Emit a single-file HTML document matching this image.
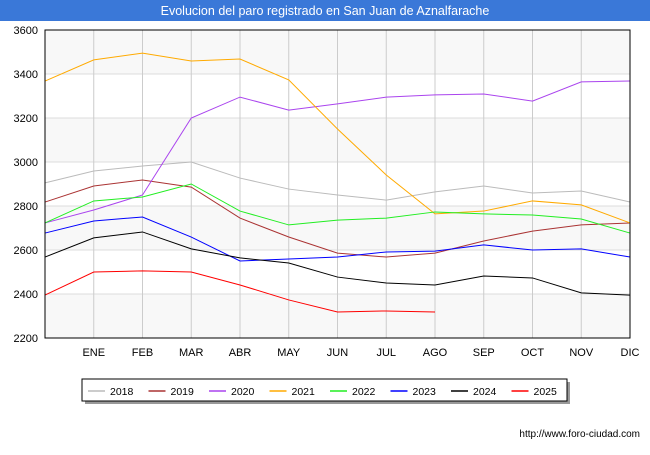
<!DOCTYPE html>
<html><head><meta charset="utf-8"><style>
body{margin:0;background:#fff;font-family:"Liberation Sans",sans-serif}
</style></head><body>
<svg width="650" height="450" xmlns="http://www.w3.org/2000/svg" font-family="Liberation Sans, sans-serif">
<rect x="0" y="0" width="650" height="21" fill="#3a78d8"/>
<text x="325" y="15" text-anchor="middle" fill="#fff" font-size="12.5">Evolucion del paro registrado en San Juan de Aznalfarache</text>
<g id="bands"></g><g id="grid"></g><g id="axes"></g><g id="series"></g>
<rect x="45" y="30" width="585" height="308" fill="none" stroke="#000" stroke-width="1"/>
<rect x="85" y="382" width="485" height="22" fill="#999"/>
<rect x="82" y="379" width="485" height="22" fill="#fff" stroke="#000"/>
<g id="legend"></g>
<text x="640" y="437" text-anchor="end" font-size="10" fill="#000">http://www.foro-ciudad.com</text>
</svg>
<script>
const months=["","ENE","FEB","MAR","ABR","MAY","JUN","JUL","AGO","SEP","OCT","NOV","DIC"];
const yTicks=[2200,2400,2600,2800,3000,3200,3400,3600];
const years=["2018","2019","2020","2021","2022","2023","2024","2025"];
const colors=["#bbbbbb","#aa3333","#aa44ee","#ffaa00","#22ee22","#0000ff","#000000","#ff0000"];
const s2018=[2905,2959,2982,3000,2927,2877,2850,2827,2864,2891,2859,2868,2818];
const s2019=[2818,2891,2918,2886,2745,2659,2586,2568,2586,2641,2686,2714,2723];
const s2020=[2723,2782,2850,3200,3295,3236,3264,3295,3305,3309,3277,3364,3368];
const s2021=[3368,3464,3495,3459,3468,3373,3150,2941,2764,2777,2823,2805,2723];
const s2022=[2723,2823,2841,2900,2777,2714,2736,2745,2773,2764,2759,2741,2677];
const s2023=[2677,2732,2750,2659,2550,2559,2568,2591,2595,2623,2600,2605,2568];
const s2024=[2568,2655,2682,2605,2564,2541,2477,2450,2441,2482,2473,2405,2395];
const s2025=[2395,2500,2505,2500,2441,2373,2318,2323,2318];
const allSeries=[s2018,s2019,s2020,s2021,s2022,s2023,s2024,s2025];
const NS="http://www.w3.org/2000/svg";
const X0=45,X1=630,Y0=338,Y1=30;
const x=i=>X0+i*(X1-X0)/12;
const y=v=>Y0-(v-2200)*(Y0-Y1)/1400;
function mk(t,a,p){const e=document.createElementNS(NS,t);for(const k in a)e.setAttribute(k,a[k]);p.appendChild(e);return e;}
const bands=document.getElementById('bands'),grid=document.getElementById('grid'),axes=document.getElementById('axes'),ser=document.getElementById('series'),leg=document.getElementById('legend');
for(let i=0;i<yTicks.length-1;i++){
 const r=mk('rect',{x:X0,y:y(yTicks[i+1]),width:X1-X0,height:y(yTicks[i])-y(yTicks[i+1]),fill:(i%2==0)?'#f8f8f8':'#ffffff'},bands);
 
 
}
yTicks.forEach(v=>{
 const l=mk('line',{x1:X0,x2:X1,y1:y(v),y2:y(v),stroke:'#dddddd'},grid);
 
 
 const t=mk('text',{x:38,y:y(v)+4,'text-anchor':'end','font-size':'11',fill:'#000'},axes);
 t.textContent=v;
 
 
});
months.forEach((m,i)=>{
 if(i==0)return;
 const l=mk('line',{x1:x(i),x2:x(i),y1:Y1,y2:Y0,stroke:'#cccccc'},grid);
 
 
 const t=mk('text',{x:x(i),y:356,'text-anchor':'middle','font-size':'11',fill:'#000'},axes);
 t.textContent=m;
 
 
});
allSeries.forEach((s,k)=>{
 const p=mk('polyline',{points:s.map((v,i)=>x(i)+','+y(v)).join(' '),fill:'none',stroke:colors[k],'stroke-width':'1'},ser);
 
 
});
years.forEach((yr,k)=>{
 const bx=88+k*60.5;
 const l=mk('line',{x1:bx,x2:bx+17,y1:391,y2:391,stroke:colors[k],'stroke-width':'1.5'},leg);
 
 
 const t=mk('text',{x:bx+22,y:395,'font-size':'10.5',fill:'#000'},leg);
 t.textContent=yr;
 
 
});
</script>
</body></html>
